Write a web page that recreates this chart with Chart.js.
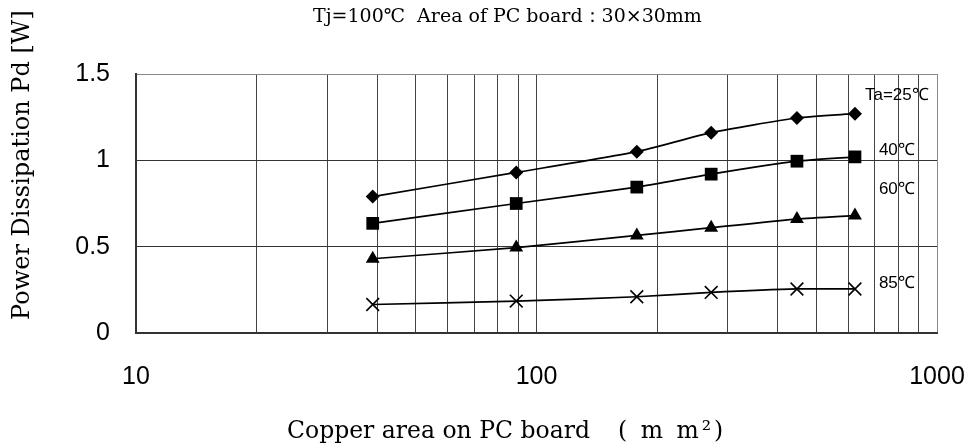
<!DOCTYPE html>
<html>
<head>
<meta charset="utf-8">
<script src="https://cdn.jsdelivr.net/npm/chart.js@4"></script>
<style>
  html, body { margin: 0; padding: 0; background: #fff; }
  #wrap { width: 975px; height: 448px; }
</style>
</head>
<body>
<div id="wrap"><canvas id="grafico" width="975" height="448"></canvas></div>
<script>
// Datos
const copperArea = [39, 89, 178, 273, 447, 624];
const pd25 = [0.79, 0.93, 1.05, 1.16, 1.245, 1.27];
const pd40 = [0.635, 0.75, 0.845, 0.92, 0.995, 1.02];
const pd60 = [0.43, 0.495, 0.565, 0.61, 0.66, 0.68];
const pd85 = [0.165, 0.185, 0.21, 0.235, 0.255, 0.255];

const xTicks = [10, 20, 30, 40, 50, 60, 70, 80, 90, 100, 200, 300, 400, 500, 600, 700, 800, 900, 1000];
const yTicks = [0, 0.5, 1, 1.5];

const seriesLabels = ["Ta=25\u2103", "40\u2103", "60\u2103", "85\u2103"];
// anclas de las etiquetas (unidades de datos)
const labelX = [661, 716, 716, 716];
const labelY = [1.378, 1.06, 0.834, 0.289];

const chartTitle = "Tj=100\u2103  Area of PC board\uFF1A30\u00D730mm";
const xTitle = "Copper area on PC board";
const xUnit = "( m m\u00B2)";
const yTitle = "Power Dissipation Pd [W]";

const serif = "'DejaVu Serif', 'Liberation Serif', serif";
const sans = "'Liberation Sans', Arial, sans-serif";

function serie(datos, estilo, radio) {
  return {
    data: copperArea.map((x, i) => ({ x, y: datos[i] })),
    borderColor: "#000",
    backgroundColor: "#000",
    borderWidth: 1.7,
    pointStyle: estilo,
    pointRadius: radio,
    pointBorderWidth: estilo === "crossRot" ? 1.6 : 0,
    pointBackgroundColor: "#000",
    pointBorderColor: "#000",
    tension: 0.2,
    fill: false
  };
}

const textos = {
  id: "textos",
  afterDraw(chart) {
    const ctx = chart.ctx;
    const xs = chart.scales.x, ys = chart.scales.y;
    ctx.save();
    ctx.fillStyle = "#000";
    ctx.textBaseline = "middle";

    // titulo
    ctx.font = "19px " + serif;
    ctx.textAlign = "left";
    ctx.fillText(chartTitle, 313, 17);

    // titulo eje x
    ctx.font = "23.5px " + serif;
    ctx.fillText(xTitle, 287, 432);
    ctx.save();
    ctx.letterSpacing = "3px";
    ctx.fillText(xUnit, 618, 432);
    ctx.restore();

    // titulo eje y
    ctx.save();
    ctx.translate(23, 165);
    ctx.rotate(-Math.PI / 2);
    ctx.textAlign = "center";
    ctx.font = "24px " + serif;
    ctx.fillText(yTitle, 0, 0);
    ctx.restore();

    // etiquetas de series
    ctx.font = "17px " + sans;
    ctx.textAlign = "left";
    seriesLabels.forEach((t, i) => {
      ctx.fillText(t, xs.getPixelForValue(labelX[i]), ys.getPixelForValue(labelY[i]));
    });
    ctx.restore();
  }
};

new Chart(document.getElementById("grafico"), {
  type: "line",
  data: {
    datasets: [
      serie(pd25, "rectRot", 7),
      serie(pd40, "rect", 9),
      serie(pd60, "triangle", 8),
      serie(pd85, "crossRot", 9)
    ]
  },
  options: {
    responsive: false,
    animation: false,
    layout: { padding: { top: 74, right: 38, left: 0, bottom: 0 } },
    plugins: {
      legend: { display: false },
      title: { display: false },
      tooltip: { enabled: false }
    },
    scales: {
      x: {
        type: "logarithmic",
        min: 10,
        max: 1000,
        afterBuildTicks: axis => { axis.ticks = xTicks.map(v => ({ value: v })); },
        afterFit: axis => {
          axis.height = 115;
          axis.paddingLeft = 0;
          axis.paddingRight = 0;
        },
        ticks: {
          autoSkip: false,
          maxRotation: 0,
          padding: 29,
          color: "#000",
          font: { family: sans, size: 25 },
          callback: v => ([10, 100, 1000].includes(v) ? String(v) : "")
        },
        grid: {
          drawTicks: false,
          color: ctx => (ctx.tick && ctx.tick.value === 1000 ? "#888" : "#444"),
          lineWidth: 1
        },
        border: { color: "#333", width: 2 }
      },
      y: {
        min: 0,
        max: 1.5,
        afterBuildTicks: axis => { axis.ticks = yTicks.map(v => ({ value: v })); },
        afterFit: axis => {
          axis.width = 136;
          axis.paddingTop = 0;
          axis.paddingBottom = 0;
        },
        ticks: {
          padding: 26,
          color: "#000",
          font: { family: sans, size: 25 },
          callback: v => String(v)
        },
        grid: {
          drawTicks: false,
          color: ctx => (ctx.tick && ctx.tick.value === 1.5 ? "#888" : "#333"),
          lineWidth: 1
        },
        border: { color: "#333", width: 2 }
      }
    }
  },
  plugins: [textos]
});
</script>
</body>
</html>
